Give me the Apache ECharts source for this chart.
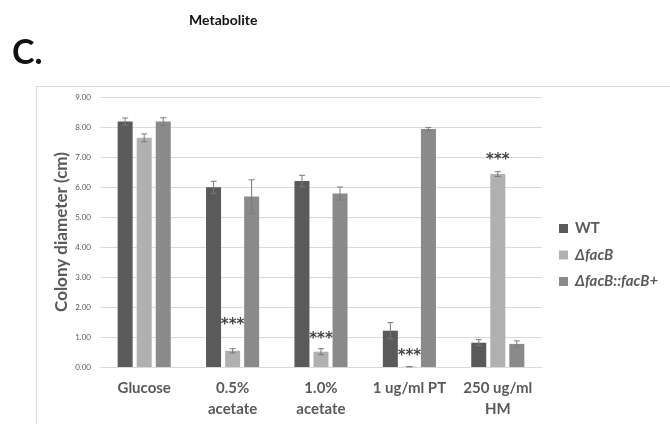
<!DOCTYPE html>
<html>
<head>
<meta charset="utf-8">
<script src="https://cdn.jsdelivr.net/npm/echarts@6/dist/echarts.min.js"></script>
<style>html,body{margin:0;padding:0;background:#fff;}#c{width:670px;height:424px;}</style>
</head>
<body>
<div id="c"></div>
<script>
const categories = ['Glucose', '0.5%\nacetate', '1.0%\nacetate', '1 ug/ml PT', '250 ug/ml\nHM'];
const seriesNames = ['WT', 'ΔfacB', 'ΔfacB::facB+'];
const wtValues = [8.18, 5.99, 6.20, 1.21, 0.81];
const wtErrors = [0.12, 0.20, 0.19, 0.27, 0.10];
const delValues = [7.64, 0.54, 0.51, 0.01, 6.43];
const delErrors = [0.13, 0.07, 0.10, 0.00, 0.08];
const compValues = [8.18, 5.68, 5.78, 7.93, 0.77];
const compErrors = [0.13, 0.56, 0.22, 0.05, 0.10];
const starPositions = [null, 1.51, 1.03, 0.46, 7.00];
const yTicks = [0, 1, 2, 3, 4, 5, 6, 7, 8, 9];

const colors = ['#5a5a5a', '#b0b0b0', '#8a8a8a'];
const BAR_W = 15, BAR_STEP = 19;

const chart = echarts.init(document.getElementById('c'), null, {renderer: 'canvas'});

function errSeries(vals, errs, idx) {
  return {
    type: 'custom',
    name: seriesNames[idx] + ' err',
    data: vals.map((v, i) => [i, v, errs[i]]),
    z: 5,
    silent: true,
    renderItem: function (params, api) {
      const i = api.value(0), v = api.value(1), e = api.value(2);
      const off = (idx - 1) * BAR_STEP;
      const top = api.coord([i, v + e]);
      const bot = api.coord([i, v - e]);
      const x = top[0] + off;
      const cap = 3;
      const st = {stroke: '#7a7a7a', lineWidth: 1};
      return {type: 'group', children: [
        {type: 'line', shape: {x1: x, y1: top[1], x2: x, y2: bot[1]}, style: st},
        {type: 'line', shape: {x1: x - cap, y1: top[1], x2: x + cap, y2: top[1]}, style: st},
        {type: 'line', shape: {x1: x - cap, y1: bot[1], x2: x + cap, y2: bot[1]}, style: st}
      ]};
    }
  };
}

const option = {
  animation: false,
  color: colors,
  textStyle: {fontFamily: 'Lato'},
  graphic: [
    {type: 'text', left: 189, top: 13, style: {text: 'Metabolite', font: 'bold 14px Lato', fill: '#111'}},
    {type: 'text', left: 12, top: 36, style: {text: 'C.', font: 'bold 34px Lato', fill: '#111'}},
    {type: 'line', shape: {x1: 36.5, y1: 86.5, x2: 670, y2: 86.5}, style: {stroke: '#d9d9d9', lineWidth: 1}},
    {type: 'line', shape: {x1: 36.5, y1: 86.5, x2: 36.5, y2: 424}, style: {stroke: '#d9d9d9', lineWidth: 1}}
  ],
  grid: {left: 100, right: 128, top: 97, bottom: 57},
  legend: {
    orient: 'vertical', left: 559, top: 221, padding: 0,
    itemWidth: 9, itemHeight: 9, itemGap: 11.5,
    icon: 'rect',
    data: seriesNames,
    formatter: function (n) { return n === 'WT' ? '{n|' + n + '}' : '{i|' + n + '}'; },
    textStyle: {
      padding: [0, 0, 0, 2],
      rich: {
        n: {fontFamily: 'Lato', fontWeight: 'bold', fontSize: 15, lineHeight: 15, color: '#595959'},
        i: {fontFamily: 'Lato', fontWeight: 'bold', fontStyle: 'italic', fontSize: 15, lineHeight: 15, color: '#595959'}
      }
    }
  },
  xAxis: {
    type: 'category', data: categories,
    axisLine: {lineStyle: {color: '#d9d9d9'}},
    axisTick: {show: false},
    axisLabel: {fontFamily: 'Lato', fontWeight: 'bold', fontSize: 15, color: '#595959', margin: 11, lineHeight: 21, interval: 0}
  },
  yAxis: {
    type: 'value', min: yTicks[0], max: yTicks[yTicks.length - 1], interval: 1,
    name: 'Colony diameter (cm)', nameLocation: 'middle', nameGap: 30, nameRotate: 90,
    nameMoveOverlap: false,
    nameTextStyle: {fontFamily: 'Lato', fontWeight: 'bold', fontSize: 17, color: '#595959'},
    axisLine: {show: false}, axisTick: {show: false},
    axisLabel: {fontFamily: 'Lato', fontSize: 8, color: '#595959', margin: 9, formatter: v => v.toFixed(2)},
    splitLine: {lineStyle: {color: '#d9d9d9'}}
  },
  series: [
    {type: 'bar', name: seriesNames[0], data: wtValues, barWidth: BAR_W, barGap: '27%'},
    {type: 'bar', name: seriesNames[1], data: delValues, barWidth: BAR_W, barGap: '27%'},
    {type: 'bar', name: seriesNames[2], data: compValues, barWidth: BAR_W, barGap: '27%'},
    errSeries(wtValues, wtErrors, 0),
    errSeries(delValues, delErrors, 1),
    errSeries(compValues, compErrors, 2),
    {
      type: 'scatter', name: 'stars', symbolSize: 0, z: 6, silent: true,
      data: starPositions.map((v, i) => v === null ? [i, '-'] : [i, v]),
      label: {show: true, position: 'inside', formatter: '***', fontFamily: 'DejaVu Sans', fontWeight: 'bold', fontSize: 15, color: '#111', offset: [0, 3]}
    }
  ]
};
chart.setOption(option);
</script>
</body>
</html>
